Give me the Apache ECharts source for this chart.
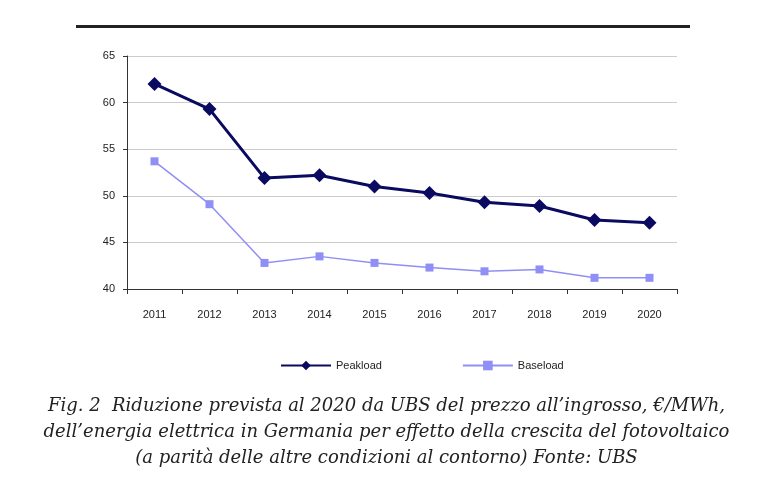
<!DOCTYPE html>
<html><head><meta charset="utf-8">
<script src="https://cdn.jsdelivr.net/npm/echarts@6/dist/echarts.min.js"></script>
<style>html,body{margin:0;background:#fff}#c{width:773px;height:504px}</style>
</head><body><div id="c"></div>
<script>
var years = ['2011','2012','2013','2014','2015','2016','2017','2018','2019','2020'];
var peakload = [62, 59.3, 51.9, 52.2, 51, 50.3, 49.3, 48.9, 47.4, 47.1];
var baseload = [53.7, 49.1, 42.8, 43.5, 42.8, 42.3, 41.9, 42.1, 41.2, 41.2];
var caption = [
  'Fig. 2  Riduzione prevista al 2020 da UBS del prezzo all\u2019ingrosso, \u20ac/MWh,',
  'dell\u2019energia elettrica in Germania per effetto della crescita del fotovoltaico',
  '(a parit\u00e0 delle altre condizioni al contorno) Fonte: UBS'
];

var chart = echarts.init(document.getElementById('c'));
var capTexts = caption.map(function (t, i) {
  return { type: 'text', left: 'center', top: 397 + i * 26,
    style: { text: t, font: 'italic 18px "DejaVu Serif", serif', fill: '#222' } };
});
chart.setOption({
  animation: false,
  backgroundColor: '#fff',
  textStyle: { fontFamily: 'Arial, "Liberation Sans", sans-serif' },
  grid: { left: 127, right: 96, top: 56, bottom: 215 },
  legend: {
    top: 355, left: 275, itemGap: 80, itemWidth: 50, itemHeight: 12,
    textStyle: { fontSize: 11, color: '#222' },
    data: ['Peakload', 'Baseload']
  },
  xAxis: {
    type: 'category', data: years, boundaryGap: true,
    axisLine: { lineStyle: { color: '#333' } },
    axisTick: { show: true, length: 5, lineStyle: { color: '#333' } },
    axisLabel: { color: '#222', fontSize: 11, margin: 20 }
  },
  yAxis: {
    type: 'value', min: 40, max: 65, interval: 5,
    axisLine: { show: true, lineStyle: { color: '#333' } },
    axisTick: { show: true, length: 4, lineStyle: { color: '#333' } },
    axisLabel: { color: '#222', fontSize: 11, margin: 12 },
    splitLine: { lineStyle: { color: '#ccc' } }
  },
  series: [
    { name: 'Peakload', type: 'line', data: peakload, symbol: 'diamond', symbolSize: 14,
      lineStyle: { color: '#0a0a60', width: 3 }, itemStyle: { color: '#0a0a60' } },
    { name: 'Baseload', type: 'line', data: baseload, symbol: 'rect', symbolSize: 8,
      lineStyle: { color: '#8f8ff5', width: 1.5 }, itemStyle: { color: '#8f8ff5' } }
  ],
  graphic: [
    { type: 'rect', shape: { x: 76, y: 25, width: 614, height: 3 }, style: { fill: '#222' } }
  ].concat(capTexts)
});
</script></body></html>
